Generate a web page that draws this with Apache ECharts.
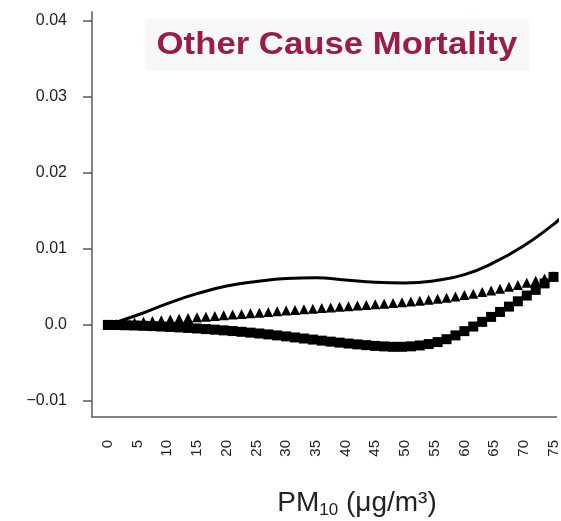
<!DOCTYPE html>
<html>
<head>
<meta charset="utf-8">
<script src="https://cdn.jsdelivr.net/npm/echarts@6/dist/echarts.min.js"></script>
<style>
  html, body { margin: 0; padding: 0; background: #ffffff; }
  #chart { width: 561px; height: 521px; }
</style>
</head>
<body>
<div id="chart"></div>
<script>
// PM10 concentration (µg/m³) at which the marker curves are sampled
const pmMarkers = [0, 1.5, 3, 4.5, 6, 7.5, 9, 10.5, 12, 13.5, 15, 16.5, 18, 19.5, 21, 22.5, 24, 25.5,
  27, 28.5, 30, 31.5, 33, 34.5, 36, 37.5, 39, 40.5, 42, 43.5, 45, 46.5, 48, 49.5, 51, 52.5, 54,
  55.5, 57, 58.5, 60, 61.5, 63, 64.5, 66, 67.5, 69, 70.5, 72, 73.5, 75];

// Curve drawn with triangle markers
const triangleCurve = [0, 0.00010, 0.00021, 0.00031, 0.00041, 0.00051, 0.00061, 0.00071, 0.00080,
  0.00090, 0.00099, 0.00108, 0.00117, 0.00126, 0.00135, 0.00144, 0.00153, 0.00161, 0.00170,
  0.00179, 0.00188, 0.00196, 0.00205, 0.00213, 0.00222, 0.00230, 0.00238, 0.00246, 0.00254,
  0.00262, 0.00270, 0.00278, 0.00287, 0.00296, 0.00306, 0.00317, 0.00329, 0.00342, 0.00357,
  0.00373, 0.00391, 0.00410, 0.00431, 0.00453, 0.00476, 0.00500, 0.00525, 0.00552, 0.00580,
  0.00610, 0.00640];

// Curve drawn with square markers
const squareCurve = [0, -0.00002, -0.00005, -0.00008, -0.00012, -0.00016, -0.00022, -0.00027,
  -0.00033, -0.00040, -0.00047, -0.00055, -0.00063, -0.00072, -0.00081, -0.00091, -0.00102,
  -0.00113, -0.00125, -0.00138, -0.00151, -0.00165, -0.00179, -0.00193, -0.00207, -0.00220,
  -0.00233, -0.00245, -0.00256, -0.00266, -0.00276, -0.00283, -0.00288, -0.00288, -0.00282,
  -0.00270, -0.00252, -0.00226, -0.00188, -0.00138, -0.00082, -0.00022, 0.00040, 0.00105,
  0.00170, 0.00240, 0.00310, 0.00385, 0.00460, 0.00545, 0.00630];

// Solid smooth curve
const pmLine = [0, 5, 10, 15, 20, 25, 30, 35, 40, 45, 50, 55, 60, 65, 70, 75, 76];
const solidCurve = [0, 0.0013, 0.0028, 0.0041, 0.0051, 0.0057, 0.0061, 0.0062, 0.0059, 0.0056,
  0.0055, 0.0058, 0.0066, 0.0082, 0.0104, 0.0132, 0.0139];

// Axis tick labels
const xTicks = [0, 5, 10, 15, 20, 25, 30, 35, 40, 45, 50, 55, 60, 65, 70, 75];
const yTicks = [-0.01, 0, 0.01, 0.02, 0.03, 0.04];

const titleText = 'Other Cause Mortality';

const zip = (xs, ys) => xs.map((x, i) => [x, ys[i]]);

const FONT = 'Liberation Sans, Arial, Helvetica, sans-serif';

const chart = echarts.init(document.getElementById('chart'), null, { renderer: 'canvas' });

chart.setOption({
  animation: false,
  backgroundColor: '#ffffff',
  grid: { left: 92, right: 0, top: 12, bottom: 104, containLabel: false },
  xAxis: {
    type: 'value',
    min: -2.667,
    max: 75.5,
    axisLine: { onZero: false, lineStyle: { color: '#5a5a5a', width: 1.5 } },
    axisTick: { show: false },
    splitLine: { show: false },
    axisLabel: {
      customValues: xTicks,
      rotate: 90,
      margin: 23,
      color: '#222',
      fontSize: 15,
      fontFamily: FONT
    }
  },
  yAxis: {
    type: 'value',
    min: -0.0121,
    max: 0.0411,
    axisLine: { show: true, onZero: false, lineStyle: { color: '#5a5a5a', width: 1.5 } },
    axisTick: { show: true, customValues: yTicks, length: 9, lineStyle: { color: '#5a5a5a', width: 1.5 } },
    splitLine: { show: false },
    axisLabel: {
      customValues: yTicks,
      margin: 25,
      color: '#222',
      fontSize: 16,
      fontFamily: FONT,
      formatter: v => {
        if (Math.abs(v) < 1e-9) return '0.0';
        const s = Math.abs(v).toFixed(2);
        return v < 0 ? '\u2212' + s : s;
      }
    }
  },
  graphic: [
    {
      // title panel
      type: 'rect',
      shape: { x: 145, y: 19, width: 384, height: 52 },
      style: { fill: '#f8f8f8' },
      z: 1
    },
    {
      type: 'text',
      x: 337,
      y: 45,
      scaleX: 1.12,
      style: {
        text: titleText,
        align: 'center',
        verticalAlign: 'middle',
        fill: '#9a1c48',
        font: 'bold 31px ' + FONT
      },
      z: 2
    },
    {
      type: 'text',
      x: 357,
      y: 503,
      style: {
        text: '{a|PM}{b|10}{a| (\u03bcg/m\u00b3)}',
        align: 'center',
        verticalAlign: 'middle',
        fill: '#222',
        rich: {
          a: { fontSize: 28, fontFamily: FONT, fill: '#222', lineHeight: 30 },
          b: { fontSize: 17, fontFamily: FONT, fill: '#222', lineHeight: 30, padding: [14, 0, 0, 0] }
        }
      }
    }
  ],
  series: [
    {
      type: 'line',
      data: zip(pmLine, solidCurve),
      smooth: true,
      showSymbol: false,
      lineStyle: { color: '#000', width: 3 },
      clip: true,
      z: 3
    },
    {
      type: 'line',
      data: zip(pmMarkers, triangleCurve),
      symbol: 'triangle',
      symbolSize: [10, 10],
      showSymbol: true,
      showAllSymbol: true,
      lineStyle: { width: 0, opacity: 0 },
      itemStyle: { color: '#000' },
      clip: true,
      z: 4
    },
    {
      type: 'line',
      data: zip(pmMarkers, squareCurve),
      symbol: 'rect',
      symbolSize: [10, 10],
      showSymbol: true,
      showAllSymbol: true,
      lineStyle: { width: 0, opacity: 0 },
      itemStyle: { color: '#000' },
      clip: true,
      z: 5
    }
  ]
});
</script>
</body>
</html>
